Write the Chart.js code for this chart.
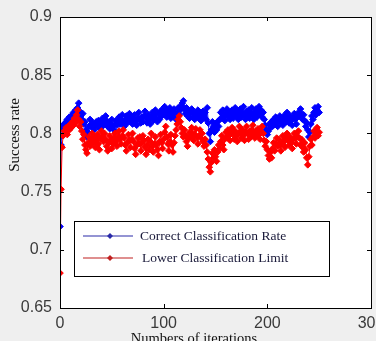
<!DOCTYPE html>
<html>
<head>
<meta charset="utf-8">
<script src="https://cdn.jsdelivr.net/npm/chart.js@4"></script>
<style>
  html, body { margin: 0; padding: 0; background: #efefef; }
  #wrap { width: 376px; height: 341px; position: relative; }
</style>
</head>
<body>
<div id="wrap"><canvas id="rateChart" width="376" height="341"></canvas></div>
<script>
// Success rate per iteration (iteration 0..250)
const correctRate = [
  0.72,
  0.79, 0.805, 0.807, 0.806, 0.809, 0.81, 0.812, 0.808, 0.814, 0.811,
  0.815, 0.813, 0.818, 0.816, 0.82, 0.817, 0.822, 0.826, 0.819, 0.815,
  0.812, 0.817, 0.808, 0.81, 0.803, 0.797, 0.801, 0.806, 0.812, 0.808,
  0.805, 0.809, 0.803, 0.807, 0.81, 0.806, 0.811, 0.808, 0.804, 0.81,
  0.813, 0.807, 0.81, 0.815, 0.811, 0.806, 0.809, 0.804, 0.808, 0.812,
  0.806, 0.803, 0.808, 0.811, 0.807, 0.81, 0.814, 0.808, 0.812, 0.816,
  0.81, 0.806, 0.812, 0.815, 0.809, 0.813, 0.817, 0.81, 0.814, 0.808,
  0.812, 0.816, 0.811, 0.807, 0.813, 0.818, 0.812, 0.809, 0.814, 0.81,
  0.815, 0.819, 0.813, 0.809, 0.816, 0.812, 0.808, 0.814, 0.818, 0.811,
  0.816, 0.82, 0.813, 0.81, 0.817, 0.812, 0.819, 0.815, 0.821, 0.816,
  0.823, 0.818, 0.814, 0.82, 0.816, 0.822, 0.813, 0.819, 0.815, 0.821,
  0.817, 0.812, 0.818, 0.822, 0.816, 0.82, 0.824, 0.826, 0.828, 0.821,
  0.817, 0.822, 0.815, 0.819, 0.813, 0.818, 0.821, 0.814, 0.817, 0.812,
  0.818, 0.815, 0.82, 0.813, 0.817, 0.811, 0.816, 0.819, 0.814, 0.818,
  0.812, 0.822, 0.809, 0.8, 0.793, 0.803, 0.81, 0.806, 0.801, 0.808,
  0.803, 0.81, 0.806, 0.812, 0.818, 0.813, 0.82, 0.815, 0.811, 0.817,
  0.821, 0.814, 0.818, 0.812, 0.816, 0.82, 0.813, 0.817, 0.822, 0.815,
  0.819, 0.812, 0.817, 0.821, 0.814, 0.818, 0.823, 0.816, 0.812, 0.819,
  0.815, 0.82, 0.813, 0.817, 0.822, 0.816, 0.812, 0.818, 0.821, 0.814,
  0.819, 0.823, 0.816, 0.82, 0.814, 0.818, 0.812, 0.807, 0.803, 0.799,
  0.802, 0.808, 0.805, 0.81, 0.806, 0.812, 0.808, 0.814, 0.81, 0.806,
  0.811, 0.815, 0.809, 0.813, 0.807, 0.812, 0.816, 0.81, 0.818, 0.813,
  0.809, 0.815, 0.811, 0.807, 0.813, 0.817, 0.812, 0.808, 0.814, 0.818,
  0.815, 0.821, 0.817, 0.812, 0.816, 0.811, 0.806, 0.809, 0.803, 0.797,
  0.801, 0.808, 0.815, 0.812, 0.818, 0.822, 0.816, 0.82, 0.823, 0.818
];
const lowerLimit = [
  0.68,
  0.752, 0.788, 0.798, 0.802, 0.8, 0.805, 0.799, 0.806, 0.803, 0.808,
  0.805, 0.81, 0.807, 0.813, 0.809, 0.816, 0.82, 0.812, 0.806, 0.81,
  0.802, 0.795, 0.799, 0.79, 0.786, 0.783, 0.792, 0.797, 0.789, 0.795,
  0.8, 0.792, 0.797, 0.788, 0.794, 0.799, 0.791, 0.786, 0.796, 0.802,
  0.797, 0.793, 0.8, 0.795, 0.789, 0.785, 0.792, 0.798, 0.794, 0.787,
  0.791, 0.796, 0.8, 0.793, 0.789, 0.797, 0.802, 0.795, 0.791, 0.798,
  0.803, 0.796, 0.79, 0.785, 0.792, 0.799, 0.794, 0.788, 0.795, 0.8,
  0.793, 0.787, 0.782, 0.79, 0.796, 0.791, 0.797, 0.785, 0.792, 0.798,
  0.794, 0.788, 0.782, 0.79, 0.795, 0.786, 0.793, 0.8, 0.789, 0.784,
  0.791, 0.797, 0.79, 0.786, 0.781, 0.793, 0.799, 0.792, 0.787, 0.795,
  0.801, 0.806, 0.797, 0.791, 0.785, 0.793, 0.799, 0.79, 0.784, 0.792,
  0.798, 0.803, 0.808, 0.812, 0.815, 0.81, 0.805, 0.8, 0.797, 0.803,
  0.798, 0.793, 0.789, 0.796, 0.801, 0.797, 0.805, 0.8, 0.794, 0.799,
  0.804, 0.797, 0.791, 0.798, 0.803, 0.796, 0.8, 0.793, 0.789, 0.795,
  0.79, 0.784, 0.778, 0.771, 0.767, 0.775, 0.783, 0.779, 0.786, 0.78,
  0.776, 0.784, 0.79, 0.787, 0.793, 0.798, 0.79, 0.786, 0.795, 0.801,
  0.797, 0.803, 0.798, 0.794, 0.8, 0.805, 0.799, 0.795, 0.802, 0.798,
  0.793, 0.8, 0.806, 0.801, 0.796, 0.803, 0.798, 0.794, 0.801, 0.806,
  0.8, 0.795, 0.802, 0.797, 0.803, 0.807, 0.8, 0.796, 0.802, 0.798,
  0.804, 0.799, 0.795, 0.801, 0.806, 0.8, 0.794, 0.789, 0.793, 0.786,
  0.781, 0.778, 0.784, 0.779, 0.787, 0.792, 0.785, 0.791, 0.796, 0.789,
  0.795, 0.79, 0.785, 0.792, 0.798, 0.793, 0.788, 0.796, 0.8, 0.794,
  0.79, 0.797, 0.792, 0.787, 0.795, 0.8, 0.796, 0.791, 0.797, 0.802,
  0.796, 0.79, 0.795, 0.788, 0.784, 0.792, 0.786, 0.779, 0.773, 0.78,
  0.789, 0.795, 0.79, 0.797, 0.802, 0.796, 0.8, 0.805, 0.798, 0.801
];
const iterations = correctRate.map((_, i) => i);
const yTicks = ['0.65', '0.7', '0.75', '0.8', '0.85', '0.9'];
const xTicks = ['0', '100', '200', '300'];
const seriesNames = ['Correct Classification Rate', 'Lower Classification Limit'];
const seriesColors = ['#0000ff', '#ff0000'];
const legendColors = ['#2a2aa8', '#c02020'];

// frame, inward ticks, axis titles and the boxed legend, MATLAB style
const matlabFrame = {
    id: 'matlabFrame',
    beforeDraw(chart) {
        const { ctx, chartArea: a } = chart;
        ctx.save();
        ctx.fillStyle = '#ffffff';
        ctx.fillRect(a.left, a.top, a.right - a.left, a.bottom - a.top);
        ctx.restore();
    },
    afterDraw(chart) {
        const { ctx, chartArea: a, scales } = chart;
        ctx.save();
        ctx.strokeStyle = '#000';
        ctx.lineWidth = 1;
        ctx.strokeRect(a.left + 0.5, a.top + 0.5, a.right - a.left, a.bottom - a.top);
        ctx.beginPath();
        scales.y.ticks.forEach(t => {
            const py = Math.round(scales.y.getPixelForValue(t.value)) + 0.5;
            ctx.moveTo(a.left, py); ctx.lineTo(a.left + 4, py);
            ctx.moveTo(a.right, py); ctx.lineTo(a.right - 4, py);
        });
        scales.x.ticks.forEach(t => {
            const px = Math.round(scales.x.getPixelForValue(t.value)) + 0.5;
            ctx.moveTo(px, a.bottom); ctx.lineTo(px, a.bottom - 4);
            ctx.moveTo(px, a.top); ctx.lineTo(px, a.top + 4);
        });
        ctx.stroke();

        // axis titles
        ctx.fillStyle = '#111';
        ctx.font = '15px "Liberation Serif", serif';
        ctx.textAlign = 'center';
        ctx.textBaseline = 'middle';
        ctx.save();
        ctx.translate(15, 135);
        ctx.rotate(-Math.PI / 2);
        ctx.fillText('Success rate', 0, 0);
        ctx.restore();
        ctx.font = '14.5px "Liberation Serif", serif';
        ctx.textBaseline = 'top';
        ctx.fillText('Numbers of iterations', 194, 332);

        // legend box
        const bx = 74, by = 221, bw = 255, bh = 55;
        ctx.fillStyle = '#fff';
        ctx.fillRect(bx, by, bw, bh);
        ctx.strokeStyle = '#000';
        ctx.strokeRect(bx + 0.5, by + 0.5, bw, bh);
        const rows = [236, 258];
        const textX = [140, 142];
        seriesNames.forEach((name, i) => {
            const ly = rows[i];
            ctx.strokeStyle = legendColors[i];
            ctx.lineWidth = 1.2;
            ctx.beginPath();
            ctx.moveTo(83, ly); ctx.lineTo(133, ly);
            ctx.stroke();
            ctx.fillStyle = legendColors[i];
            ctx.beginPath();
            ctx.moveTo(110, ly - 3); ctx.lineTo(113, ly); ctx.lineTo(110, ly + 3); ctx.lineTo(107, ly);
            ctx.closePath();
            ctx.fill();
            ctx.fillStyle = '#1a1a3a';
            ctx.font = '13.5px "Liberation Serif", serif';
            ctx.textAlign = 'left';
            ctx.textBaseline = 'middle';
            ctx.fillText(name, textX[i], ly);
        });
        ctx.restore();
    }
};

const ctx = document.getElementById('rateChart').getContext('2d');
new Chart(ctx, {
    type: 'line',
    data: {
        labels: iterations,
        datasets: [
            {
                label: seriesNames[0],
                data: correctRate,
                borderColor: seriesColors[0],
                backgroundColor: seriesColors[0],
                borderWidth: 1,
                pointStyle: 'rectRot',
                pointRadius: 3.3,
                pointBorderWidth: 1,
                order: 1
            },
            {
                label: seriesNames[1],
                data: lowerLimit,
                borderColor: seriesColors[1],
                backgroundColor: seriesColors[1],
                borderWidth: 1,
                pointStyle: 'rectRot',
                pointRadius: 3.3,
                pointBorderWidth: 1,
                order: 0
            }
        ]
    },
    options: {
        responsive: false,
        animation: false,
        layout: { padding: { top: 17, left: 0, right: 0, bottom: 0 } },
        plugins: {
            legend: { display: false },
            tooltip: { enabled: false }
        },
        scales: {
            x: {
                type: 'linear',
                min: 0,
                max: 300,
                grid: { display: false, drawTicks: false },
                border: { display: false },
                ticks: {
                    stepSize: 100,
                    padding: 6,
                    maxRotation: 0,
                    color: '#3a3a3a',
                    font: { family: '"Liberation Sans", Arial, sans-serif', size: 16 },
                    callback: (v) => xTicks[Math.round(v / 100)]
                },
                afterFit: (s) => { s.height = 33; s.paddingRight = 0; s.paddingLeft = 0; }
            },
            y: {
                min: 0.65,
                max: 0.9,
                grid: { display: false, drawTicks: false },
                border: { display: false },
                ticks: {
                    stepSize: 0.05,
                    padding: 8,
                    color: '#3a3a3a',
                    font: { family: '"Liberation Sans", Arial, sans-serif', size: 16 },
                    callback: (v) => yTicks[Math.round((v - 0.65) / 0.05)]
                },
                afterFit: (s) => { s.width = 60; s.paddingTop = 0; s.paddingBottom = 0; }
            }
        }
    },
    plugins: [matlabFrame]
});
</script>
</body>
</html>
